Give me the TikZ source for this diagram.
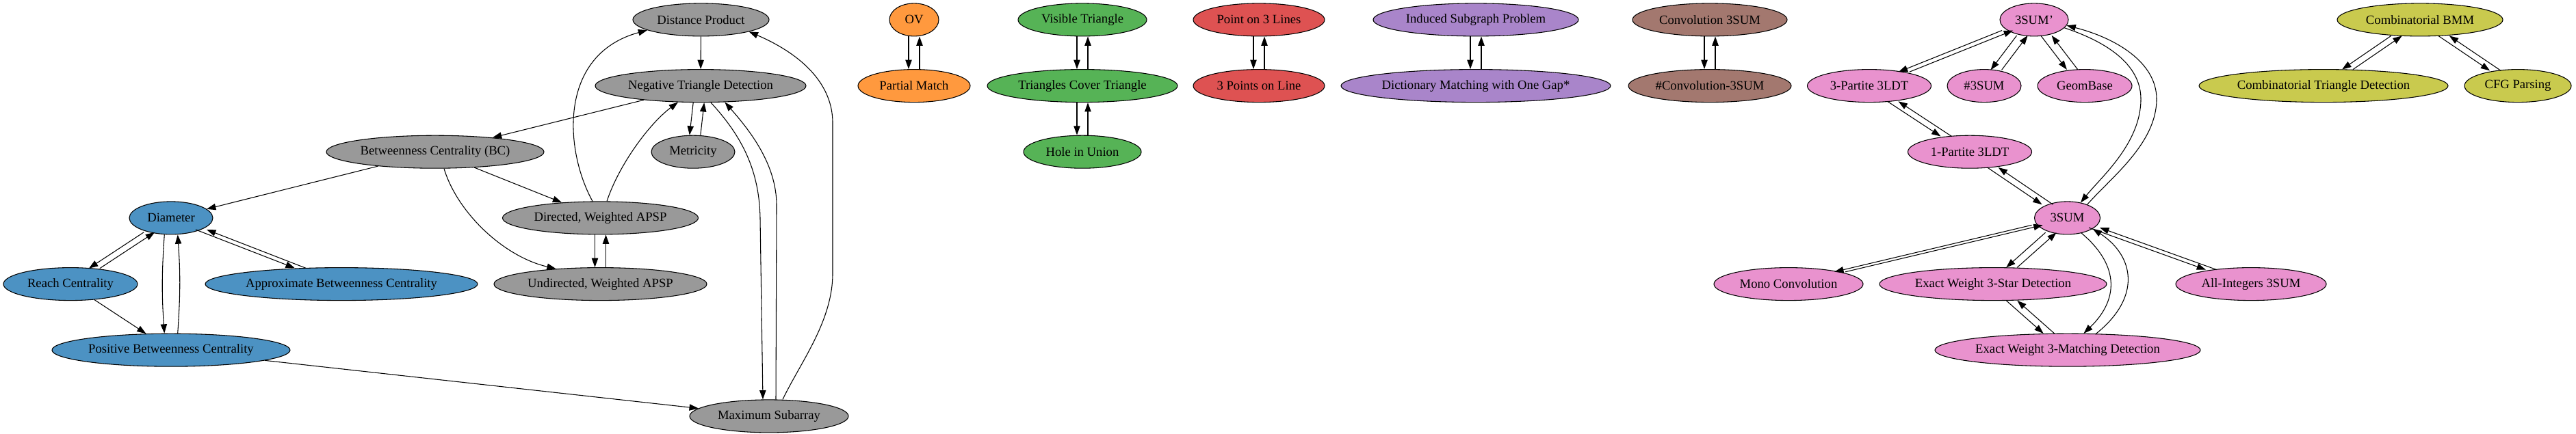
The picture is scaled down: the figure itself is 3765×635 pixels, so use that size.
\documentclass[tikz,border=0pt]{standalone}
\usepackage{fontspec}
\setmainfont{Liberation Serif}
\usetikzlibrary{shapes.geometric,arrows.meta,calc}
\definecolor{cgray}{HTML}{999999}
\definecolor{cblue}{HTML}{4C92C3}
\definecolor{corange}{HTML}{FF993E}
\definecolor{cgreen}{HTML}{56B356}
\definecolor{cred}{HTML}{DE5252}
\definecolor{cpurple}{HTML}{A985CA}
\definecolor{cbrown}{HTML}{A3786F}
\definecolor{cpink}{HTML}{E992CE}
\definecolor{colive}{HTML}{C9CA4E}
\newcommand\pairsep{6pt}
% pair of opposite edges between an upper node #2 and a lower node #3
\newcommand\biedge[3][]{%
  \draw[conn, transform canvas={xshift=-\pairsep}] (#2) to[#1] (#3);
  \draw[conn, transform canvas={xshift=\pairsep}] (#3) to[#1] (#2);
}
\begin{document}
\begin{tikzpicture}[x=0.75pt,y=-0.75pt,
  nd/.style={ellipse, draw, line width=0.8pt, inner sep=0pt, minimum height=36pt,
             font=\fontsize{14}{16}\selectfont},
  wd/.style={minimum width=#1*0.75pt},
  conn/.style={line width=0.8pt, -{Triangle[length=10pt,width=7pt]}}]
\fill[white] (0,0) rectangle (3765,635);
\useasboundingbox (0,0) rectangle (3765,635);
\def\ra{28.9}\def\rb{125.6}\def\rc{222.2}\def\rd{318.9}\def\re{415.6}\def\rf{512.2}\def\rg{608.9}
% gray
\node[nd, fill=cgray, wd=199] (dp) at (1024.5,\ra) {\makebox[0pt]{Distance Product}};
\node[nd, fill=cgray, wd=308] (ntd) at (1024,\rb) {\makebox[0pt]{Negative Triangle Detection}};
\node[nd, fill=cgray, wd=318] (bc) at (636,\rc) {\makebox[0pt]{Betweenness Centrality (BC)}};
\node[nd, fill=cgray, wd=122] (met) at (1013,\rc) {\makebox[0pt]{Metricity}};
\node[nd, fill=cgray, wd=286] (dapsp) at (877.5,\rd) {\makebox[0pt]{Directed, Weighted APSP}};
\node[nd, fill=cgray, wd=311] (uapsp) at (877.5,\re) {\makebox[0pt]{Undirected, Weighted APSP}};
\node[nd, fill=cgray, wd=232] (maxsub) at (1124,\rg) {\makebox[0pt]{Maximum Subarray}};
% blue
\node[nd, fill=cblue, wd=122] (diam) at (250,\rd) {\makebox[0pt]{Diameter}};
\node[nd, fill=cblue, wd=196] (reach) at (103,\re) {\makebox[0pt]{Reach Centrality}};
\node[nd, fill=cblue, wd=398] (abc) at (499,\re) {\makebox[0pt]{Approximate Betweenness Centrality}};
\node[nd, fill=cblue, wd=348] (pbc) at (250,\rf) {\makebox[0pt]{Positive Betweenness Centrality}};
% orange
\node[nd, fill=corange, wd=72] (ov) at (1336,\ra) {\makebox[0pt]{OV}};
\node[nd, fill=corange, wd=164] (pm) at (1336,\rb) {\makebox[0pt]{Partial Match}};
% green
\node[nd, fill=cgreen, wd=188] (vt) at (1582,\ra) {\makebox[0pt]{Visible Triangle}};
\node[nd, fill=cgreen, wd=278] (tct) at (1582,\rb) {\makebox[0pt]{Triangles Cover Triangle}};
\node[nd, fill=cgreen, wd=172] (hu) at (1582,\rc) {\makebox[0pt]{Hole in Union}};
% red
\node[nd, fill=cred, wd=192] (pol) at (1840,\ra) {\makebox[0pt]{Point on 3 Lines}};
\node[nd, fill=cred, wd=192] (tpl) at (1840,\rb) {\makebox[0pt]{3 Points on Line}};
% purple
\node[nd, fill=cpurple, wd=300] (isp) at (2157,\ra) {\makebox[0pt]{Induced Subgraph Problem}};
\node[nd, fill=cpurple, wd=394] (dm) at (2157,\rb) {\makebox[0pt]{Dictionary Matching with One Gap*}};
% brown
\node[nd, fill=cbrown, wd=226] (cs) at (2499,\ra) {\makebox[0pt]{Convolution 3SUM}};
\node[nd, fill=cbrown, wd=238] (ncs) at (2499,\rb) {\makebox[0pt]{\#Convolution-3SUM}};
% pink
\node[nd, fill=cpink, wd=100] (sp) at (2973,\ra) {\makebox[0pt]{3SUM'}};
\node[nd, fill=cpink, wd=181] (tp) at (2732,\rb) {\makebox[0pt]{3-Partite 3LDT}};
\node[nd, fill=cpink, wd=108] (ns) at (2900,\rb) {\makebox[0pt]{\#3SUM}};
\node[nd, fill=cpink, wd=138] (gb) at (3047,\rb) {\makebox[0pt]{GeomBase}};
\node[nd, fill=cpink, wd=181] (op) at (2879,\rc) {\makebox[0pt]{1-Partite 3LDT}};
\node[nd, fill=cpink, wd=96] (ss) at (3021.5,\rd) {\makebox[0pt]{3SUM}};
\node[nd, fill=cpink, wd=218] (mono) at (2614,\re) {\makebox[0pt]{Mono Convolution}};
\node[nd, fill=cpink, wd=332] (star) at (2913,\re) {\makebox[0pt]{Exact Weight 3-Star Detection}};
\node[nd, fill=cpink, wd=220] (ai) at (3290,\re) {\makebox[0pt]{All-Integers 3SUM}};
\node[nd, fill=cpink, wd=388] (match) at (3022,\rf) {\makebox[0pt]{Exact Weight 3-Matching Detection}};
% olive
\node[nd, fill=colive, wd=242] (bmm) at (3537,\ra) {\makebox[0pt]{Combinatorial BMM}};
\node[nd, fill=colive, wd=364] (ctd) at (3396,\rb) {\makebox[0pt]{Combinatorial Triangle Detection}};
\node[nd, fill=colive, wd=156] (cfg) at (3680,\rb) {\makebox[0pt]{CFG Parsing}};

% single straight edges
\draw[conn] (dp) -- (ntd);
\draw[conn] (ntd) -- (bc);
\draw[conn] (bc) -- (diam);
\draw[conn] (bc) -- (dapsp);
\draw[conn] (reach) -- (pbc);
\draw[conn] (pbc) -- (maxsub);

% curved edges
\draw[conn] ([shift={(-11.5,0)}]dapsp.north) .. controls (825,220) and (815,80) .. (dp.191);
\draw[conn] ([shift={(9.5,0)}]dapsp.north) .. controls (905,240) and (950,180) .. (ntd.216.8);
\draw[conn] ([shift={(13,0)}]bc.south) .. controls (668,310) and (735,375) .. (uapsp.161.5);
\draw[conn] ([shift={(20,0)}]maxsub.north) .. controls (1170,530) and (1217,470) .. (1217,400)
   -- (1217,180) .. controls (1217,110) and (1150,70) .. (dp.346.9);
\draw[conn] ([shift={(15,0)}]ntd.south) .. controls (1085,200) and (1110,250) .. (1111,320)
   -- ([shift={(-9,0)}]maxsub.north);
\draw[conn] ([shift={(10,0)}]maxsub.north) -- (1135,300) .. controls (1135,240) and (1095,190) .. (ntd.326.9);
\draw[conn] (sp.345.6) .. controls (3090,65) and (3129,100) .. (3129,145)
   .. controls (3129,210) and (3070,260) .. (ss.49.8);
\draw[conn] (ss.34.7) .. controls (3085,260) and (3152,210) .. (3152,145)
   .. controls (3152,90) and (3090,55) .. (sp.350.4);
\draw[conn] (ss.313) .. controls (3100,390) and (3095,440) .. (match.46.7);
\draw[conn] (match.30.4) .. controls (3130,435) and (3120,375) .. (ss.337.6);

% pairs of opposite edges
\biedge{ntd}{met}
\biedge{dapsp}{uapsp}
\biedge{diam}{reach}
\biedge{diam}{abc}
\biedge[bend right=4]{diam}{pbc}
\biedge{ov}{pm}
\biedge{vt}{tct}
\biedge{tct}{hu}
\biedge{pol}{tpl}
\biedge{isp}{dm}
\biedge{cs}{ncs}
\biedge{sp}{tp}
\biedge{sp}{ns}
\biedge{sp}{gb}
\biedge{tp}{op}
\biedge{op}{ss}
\biedge{ss}{mono}
\biedge{ss}{star}
\biedge{ss}{ai}
\biedge{star}{match}
\biedge{bmm}{ctd}
\biedge{bmm}{cfg}
\end{tikzpicture}
\end{document}
